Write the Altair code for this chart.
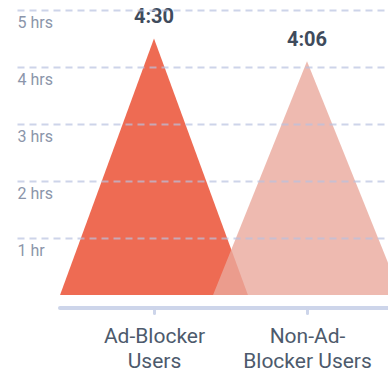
import json
import altair as alt
import pandas as pd

# ---- data ----
categories = ["Ad-Blocker Users", "Non-Ad-Blocker Users"]
category_lines = [["Ad-Blocker", "Users"], ["Non-Ad-", "Blocker Users"]]
hours = [4.5, 4.1]
hour_labels = ["4:30", "4:06"]
y_tick_values = [1, 2, 3, 4, 5]

HALF = 0.614  # half width of each triangle in category units

tri_rows = []
for i, (cat, h) in enumerate(zip(categories, hours)):
    tri_rows += [
        {"series": cat, "x": i - HALF, "y": 0, "o": 0},
        {"series": cat, "x": i, "y": h, "o": 1},
        {"series": cat, "x": i + HALF, "y": 0, "o": 2},
    ]
tri = pd.DataFrame(tri_rows)
peaks = pd.DataFrame({"series": categories, "x": list(range(len(categories))),
                      "y": hours, "label": hour_labels})

FONT = "Roboto, DejaVu Sans Condensed, sans-serif"

x_scale = alt.Scale(domain=[-0.8954, 1.5294], nice=False, zero=False)
y_scale = alt.Scale(domain=[0, 5.175], nice=False)

label_expr = " : ".join(
    f"datum.value == {i} ? {json.dumps(lines)}" for i, lines in enumerate(category_lines)
) + " : ''"

x_axis = alt.Axis(
    values=list(range(len(categories))),
    labelExpr=label_expr,
    domain=False,
    grid=False,
    ticks=True,
    tickSize=5,
    tickWidth=3,
    tickCap="round",
    tickColor="#cdd5ea",
    offset=13,
    labelPadding=12,
    labelFont=FONT,
    labelFontSize=21,
    labelLineHeight=25,
    labelColor="#4d5a6c",
    labelBaseline="top",
    zindex=1,
    title=None,
)

y_axis = alt.Axis(
    values=y_tick_values,
    labelExpr="datum.value == 1 ? '1 hr' : datum.value + ' hrs'",
    domain=False,
    ticks=False,
    grid=True,
    gridColor="#b8c2e0",
    gridOpacity=0.7,
    gridDash=[7, 5],
    gridWidth=2,
    labelAlign="left",
    labelBaseline="top",
    labelPadding=0,
    labelOffset=5,
    labelFont=FONT,
    labelFontSize=16,
    labelColor="#8b95aa",
    zindex=1,
    title=None,
)

base = alt.Chart(tri)

red = base.transform_filter(alt.datum.series == categories[0]).mark_area(
    color="#ee6b53", clip=True
).encode(
    x=alt.X("x:Q", scale=x_scale, axis=x_axis),
    y=alt.Y("y:Q", scale=y_scale, axis=y_axis),
    order="o:Q",
)

pink = base.transform_filter(alt.datum.series == categories[1]).mark_area(
    color="#eaa99c", opacity=0.8, clip=True
).encode(
    x=alt.X("x:Q", scale=x_scale),
    y=alt.Y("y:Q", scale=y_scale),
    order="o:Q",
)

axis_line = alt.Chart(pd.DataFrame({"a": [0]})).mark_rule(
    color="#cdd5ea", strokeWidth=4, strokeCap="round"
).encode(x=alt.value(43), x2=alt.value(371), y=alt.value(308))

texts = alt.Chart(peaks).mark_text(
    font=FONT, fontSize=20, fontWeight="bold", color="#3f4b5c",
    baseline="bottom", dy=-11
).encode(
    x=alt.X("x:Q", scale=x_scale),
    y=alt.Y("y:Q", scale=y_scale),
    text="label:N",
)

chart = alt.layer(red, pink, axis_line, texts).properties(
    width=371, height=295,
    padding={"left": 17, "top": 0, "right": 0, "bottom": 74},
    autosize=alt.AutoSizeParams(type="none"),
).configure_view(stroke=None)

chart.save("out.html", embed_options={"renderer": "svg", "actions": False})
